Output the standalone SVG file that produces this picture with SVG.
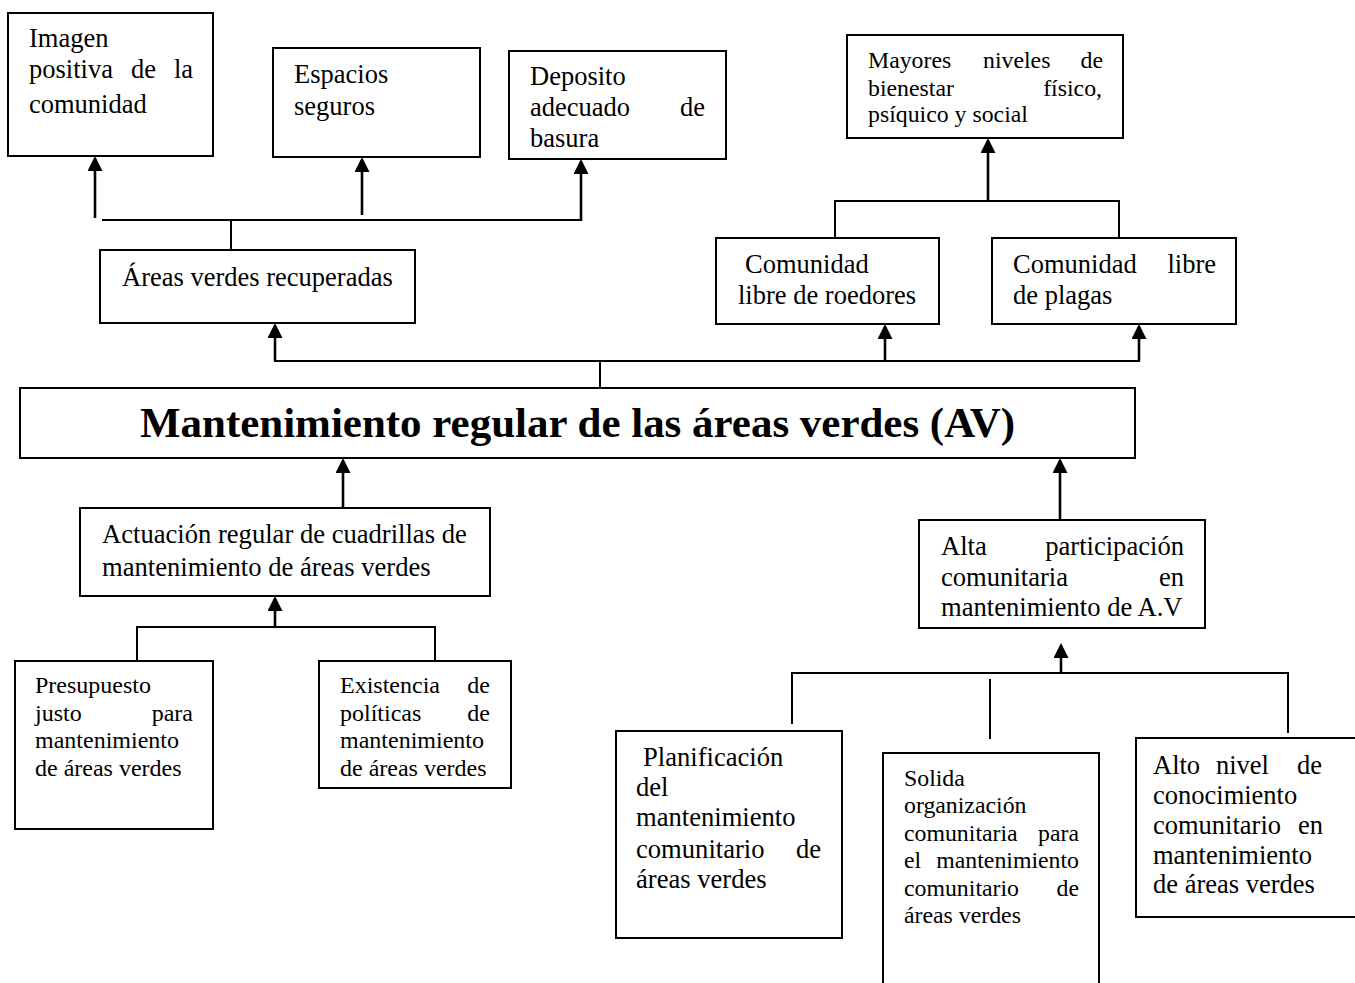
<svg xmlns="http://www.w3.org/2000/svg" width="1355" height="983" viewBox="0 0 1355 983">
<style>
.box{fill:#fff;stroke:#000;stroke-width:2}
.t{font-family:"Liberation Serif","Times New Roman",serif;fill:#000}
.f265{font-size:26.5px}
.f238{font-size:23.8px}
.f24{font-size:24px}
.f266{font-size:26.6px}
.e{text-anchor:end}
.c{stroke:#000;stroke-width:2;fill:none}
.a{stroke:#000;stroke-width:2.6;fill:none;marker-end:url(#ah)}
</style>
<defs>
<marker id="ah" viewBox="0 0 15 15" refX="12" refY="7.5" markerWidth="15" markerHeight="15" markerUnits="userSpaceOnUse" orient="auto">
<path d="M0,0 L15,7.5 L0,15 z" fill="#000"/>
</marker>
</defs>
<rect width="1355" height="983" fill="#fff"/>

<g id="connectors">
<line class="a" x1="95" y1="218" x2="95" y2="159"/>
<line class="a" x1="362" y1="215" x2="362" y2="160"/>
<line class="a" x1="581" y1="221" x2="581" y2="162"/>
<line class="c" x1="102" y1="220" x2="582" y2="220"/>
<line class="c" x1="231" y1="220" x2="231" y2="250"/>
<line class="c" x1="274" y1="361" x2="1140" y2="361"/>
<line class="a" x1="275" y1="361" x2="275" y2="326"/>
<line class="c" x1="600" y1="361" x2="600" y2="388"/>
<line class="a" x1="885" y1="361" x2="885" y2="327"/>
<line class="a" x1="1139" y1="361" x2="1139" y2="327"/>
<line class="a" x1="988" y1="201" x2="988" y2="141"/>
<line class="c" x1="835" y1="201" x2="1119" y2="201"/>
<line class="c" x1="835" y1="200" x2="835" y2="238"/>
<line class="c" x1="1119" y1="200" x2="1119" y2="238"/>
<line class="a" x1="343" y1="508" x2="343" y2="461"/>
<line class="a" x1="1060" y1="520" x2="1060" y2="461"/>
<line class="a" x1="275" y1="627" x2="275" y2="599"/>
<line class="c" x1="137" y1="627" x2="435" y2="627"/>
<line class="c" x1="137" y1="626" x2="137" y2="661"/>
<line class="c" x1="435" y1="626" x2="435" y2="661"/>
<line class="a" x1="1061" y1="673" x2="1061" y2="646"/>
<line class="c" x1="792" y1="673" x2="1288" y2="673"/>
<line class="c" x1="792" y1="672" x2="792" y2="724"/>
<line class="c" x1="990" y1="679" x2="990" y2="739"/>
<line class="c" x1="1288" y1="672" x2="1288" y2="733"/>
</g>

<g id="n-imagen">
<rect class="box" x="8" y="13" width="205" height="143"/>
<text class="t f265" x="29" y="47">Imagen</text>
<text class="t f265" x="29" y="78">positiva</text>
<text class="t f265" x="131" y="78">de</text>
<text class="t f265 e" x="193" y="78">la</text>
<text class="t f265" x="29" y="113">comunidad</text>
</g>

<g id="n-espacios">
<rect class="box" x="273" y="48" width="207" height="109"/>
<text class="t f265" x="294" y="83">Espacios</text>
<text class="t f265" x="294" y="115">seguros</text>
</g>

<g id="n-deposito">
<rect class="box" x="509" y="51" width="217" height="108"/>
<text class="t f265" x="530" y="85">Deposito</text>
<text class="t f265" x="530" y="116">adecuado</text>
<text class="t f265 e" x="705" y="116">de</text>
<text class="t f265" x="530" y="147">basura</text>
</g>

<g id="n-areas">
<rect class="box" x="100" y="250" width="315" height="73"/>
<text class="t f265" x="122" y="286">Áreas verdes recuperadas</text>
</g>

<g id="n-mayores">
<rect class="box" x="847" y="35" width="276" height="103"/>
<text class="t f238" x="868" y="68">Mayores</text>
<text class="t f238" x="983" y="68">niveles</text>
<text class="t f238 e" x="1103" y="68">de</text>
<text class="t f238" x="868" y="96">bienestar</text>
<text class="t f238 e" x="1102" y="96">físico,</text>
<text class="t f238" x="868" y="122">psíquico y social</text>
</g>

<g id="n-roedores">
<rect class="box" x="716" y="238" width="223" height="86"/>
<text class="t f265" x="745" y="273">Comunidad</text>
<text class="t f265" x="738" y="304">libre de roedores</text>
</g>

<g id="n-plagas">
<rect class="box" x="992" y="238" width="244" height="86"/>
<text class="t f265" x="1013" y="273">Comunidad</text>
<text class="t f265 e" x="1216" y="273">libre</text>
<text class="t f265" x="1013" y="304">de plagas</text>
</g>

<g id="n-main">
<rect class="box" x="20" y="388" width="1115" height="70"/>
<text class="t" x="140" y="437" font-size="42.5" font-weight="bold" textLength="875" lengthAdjust="spacingAndGlyphs">Mantenimiento regular de las áreas verdes (AV)</text>
</g>

<g id="n-actuacion">
<rect class="box" x="80" y="508" width="410" height="88"/>
<text class="t f266" x="102" y="543">Actuación regular de cuadrillas de</text>
<text class="t f266" x="102" y="576">mantenimiento de áreas verdes</text>
</g>

<g id="n-alta">
<rect class="box" x="919" y="520" width="286" height="108"/>
<text class="t f266" x="941" y="555">Alta</text>
<text class="t f266 e" x="1184" y="555">participación</text>
<text class="t f266" x="941" y="586">comunitaria</text>
<text class="t f266 e" x="1184" y="586">en</text>
<text class="t f266" x="941" y="616">mantenimiento de A.V</text>
</g>

<g id="n-presupuesto">
<rect class="box" x="15" y="661" width="198" height="168"/>
<text class="t f24" x="35" y="693">Presupuesto</text>
<text class="t f24" x="35" y="721">justo</text>
<text class="t f24 e" x="193" y="721">para</text>
<text class="t f24" x="35" y="748">mantenimiento</text>
<text class="t f24" x="35" y="776">de áreas verdes</text>
</g>

<g id="n-existencia">
<rect class="box" x="319" y="661" width="192" height="127"/>
<text class="t f24" x="340" y="693">Existencia</text>
<text class="t f24 e" x="490" y="693">de</text>
<text class="t f24" x="340" y="721">políticas</text>
<text class="t f24 e" x="490" y="721">de</text>
<text class="t f24" x="340" y="748">mantenimiento</text>
<text class="t f24" x="340" y="776">de áreas verdes</text>
</g>

<g id="n-planificacion">
<rect class="box" x="616" y="731" width="226" height="207"/>
<text class="t f266" x="643" y="766">Planificación</text>
<text class="t f266" x="636" y="796">del</text>
<text class="t f266" x="636" y="826">mantenimiento</text>
<text class="t f266" x="636" y="858">comunitario</text>
<text class="t f266 e" x="821" y="858">de</text>
<text class="t f266" x="636" y="888">áreas verdes</text>
</g>

<g id="n-solida">
<rect class="box" x="883" y="753" width="216" height="245"/>
<text class="t f238" x="904" y="786">Solida</text>
<text class="t f238" x="904" y="813">organización</text>
<text class="t f238" x="904" y="841">comunitaria</text>
<text class="t f238 e" x="1079" y="841">para</text>
<text class="t f238" x="904" y="868">el</text>
<text class="t f238 e" x="1079" y="868">mantenimiento</text>
<text class="t f238" x="904" y="896">comunitario</text>
<text class="t f238 e" x="1079" y="896">de</text>
<text class="t f238" x="904" y="923">áreas verdes</text>
</g>

<g id="n-alto">
<rect class="box" x="1136" y="738" width="240" height="179"/>
<text class="t f265" x="1153" y="774">Alto</text>
<text class="t f265" x="1216" y="774">nivel</text>
<text class="t f265 e" x="1322" y="774">de</text>
<text class="t f265" x="1153" y="804">conocimiento</text>
<text class="t f265" x="1153" y="834">comunitario</text>
<text class="t f265 e" x="1323" y="834">en</text>
<text class="t f265" x="1153" y="864">mantenimiento</text>
<text class="t f265" x="1153" y="893">de áreas verdes</text>
</g>
</svg>
